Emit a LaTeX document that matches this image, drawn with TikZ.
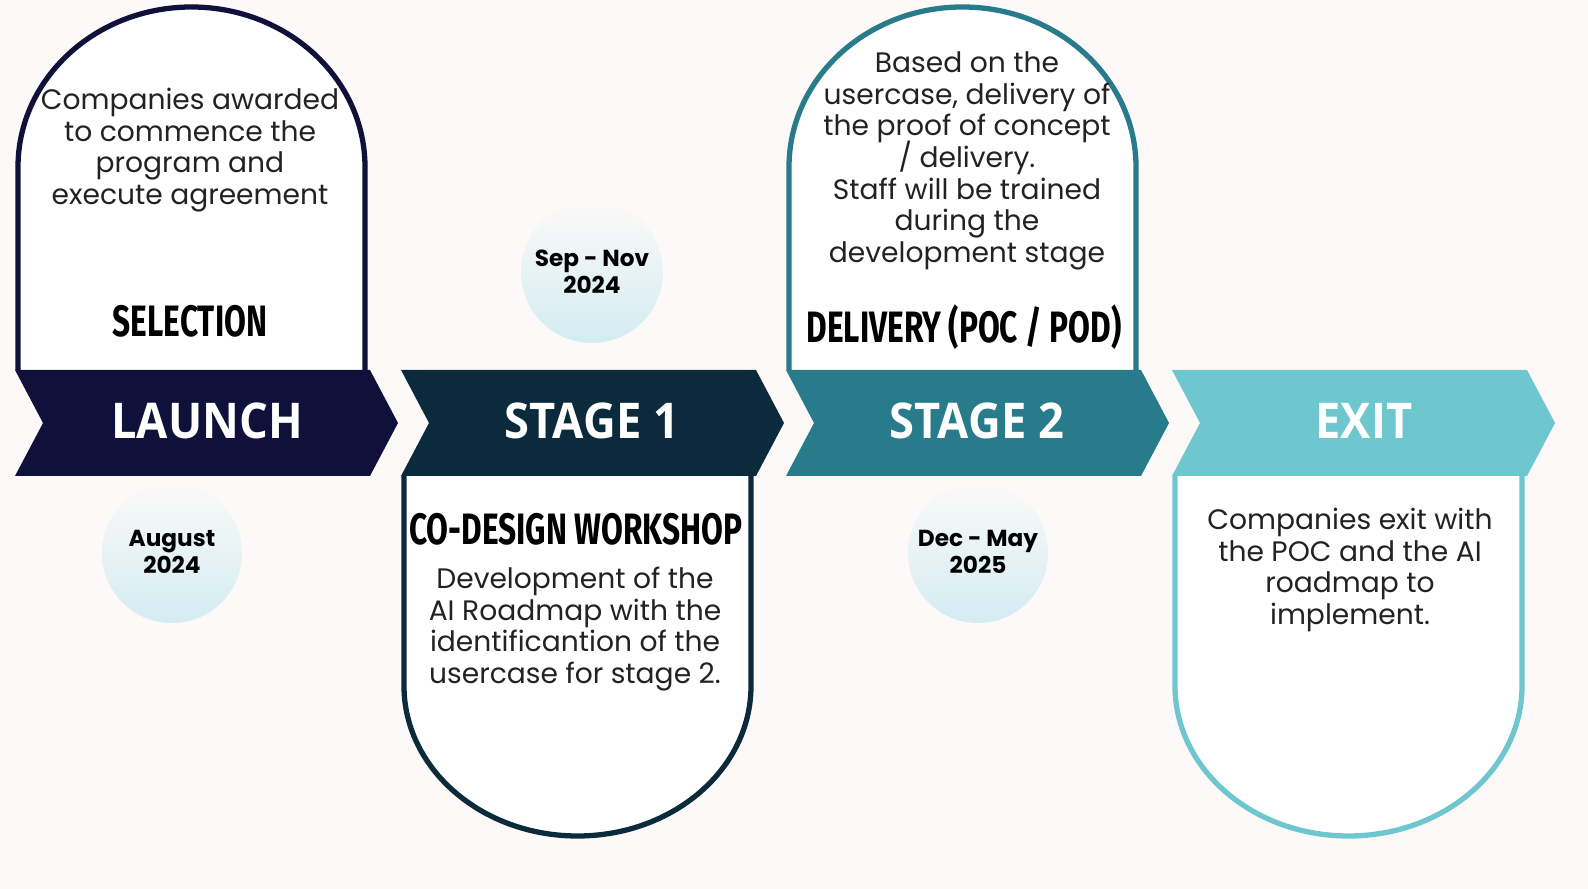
\documentclass[tikz,border=0pt]{standalone}
\usepackage{fontspec}
\setmainfont{Poppins}
\newfontfamily\headfont[FakeStretch=0.72]{Fira Sans}
\newfontfamily\bandfont[FakeStretch=0.92]{Open Sans}
\newcommand\blurbfont{\fontsize{8}{9}\selectfont\lineskiplimit=-10pt\relax}

\definecolor{launchblue}{HTML}{10113A}
\definecolor{stageone}{HTML}{0B2B3D}
\definecolor{stagetwo}{HTML}{287B8B}
\definecolor{exitteal}{HTML}{6EC6CF}
\definecolor{paper}{HTML}{FCF9F8}
\definecolor{dateblue}{HTML}{D3ECF2}
\definecolor{ink}{HTML}{222222}

\tikzset{
	band/.style={font=\bandfont\bfseries\fontsize{14}{16}\selectfont, text=white},
	head/.style={font=\headfont\bfseries\fontsize{12.5}{14}\selectfont, text=black},
	blurb/.style={font=\blurbfont, text=ink, align=center},
	datetxt/.style={font=\bfseries\fontsize{6.6}{7.7}\selectfont, text=black, align=center},
	box/.style={line width=1.5pt, fill=white},
	dateball/.style={top color=paper, bottom color=dateblue}
}

\begin{document}
\begin{tikzpicture}[x=0.01cm, y=-0.01cm]

	\fill [paper] (0,0) rectangle (1588,889);
	\useasboundingbox (0,0) rectangle (1588,889);

	% date balls
	\shade [dateball] (172,553) circle [radius=70];
	\shade [dateball] (592,272) circle [radius=71];
	\shade [dateball] (978,553) circle [radius=70];

	% boxes
	\draw [box, draw=launchblue] (18,370) -- (18,167) arc [start angle=180, end angle=360, x radius=173.5, y radius=160] -- (365,370);
	\draw [box, draw=stageone] (404,476) -- (404,686) arc [start angle=180, end angle=0, x radius=173.5, y radius=150] -- (751,476);
	\draw [box, draw=stagetwo] (789,370) -- (789,167) arc [start angle=180, end angle=360, x radius=173.5, y radius=160] -- (1136,370);
	\draw [box, draw=exitteal] (1175,476) -- (1175,686) arc [start angle=180, end angle=0, x radius=173.5, y radius=150] -- (1522,476);

	% chevrons
	\fill [launchblue] (15,370) -- (370,370) -- (398,423) -- (370,476) -- (15,476) -- (43,423) -- cycle;
	\fill [stageone] (401,370) -- (756,370) -- (784,423) -- (756,476) -- (401,476) -- (429,423) -- cycle;
	\fill [stagetwo] (786,370) -- (1141,370) -- (1169,423) -- (1141,476) -- (786,476) -- (814,423) -- cycle;
	\fill [exitteal] (1172,370) -- (1527,370) -- (1555,423) -- (1527,476) -- (1172,476) -- (1200,423) -- cycle;

	\node [band] (launch) at (207,421) {LAUNCH};
	\node [band] (stagea) at (592,421) {STAGE 1};
	\node [band] (stageb) at (977,421) {STAGE 2};
	\node [band] (exit) at (1364,421) {EXIT};

	% headings
	\node [head] (selection) at (190,321) {SELECTION};
	\node [head] (codesign) at (576,529) {CO-DESIGN WORKSHOP};
	\node [head] (delivery) at (964,327) {DELIVERY (POC / POD)};

	% texts
	\node [blurb] (launchtxt) at (190,150) {Companies awarded\\to commence the\\program and\\execute agreement};
	\node [blurb] (stageatxt) at (575,629) {Development of the\\AI Roadmap with the\\identificantion of the\\usercase for stage 2.};
	\node [blurb] (stagebtxt) at (967,161) {Based on the\\usercase, delivery of\\the proof of concept\\/ delivery.\\Staff will be trained\\during the\\development stage};
	\node [blurb] (exittxt) at (1350,570) {Companies exit with\\the POC and the AI\\roadmap to\\implement.};

	% dates
	\node [datetxt] (august) at (172,552) {August\\2024};
	\node [datetxt] (sepnov) at (592,272) {Sep - Nov\\2024};
	\node [datetxt] (decmay) at (978,552) {Dec - May\\2025};

\end{tikzpicture}
\end{document}
